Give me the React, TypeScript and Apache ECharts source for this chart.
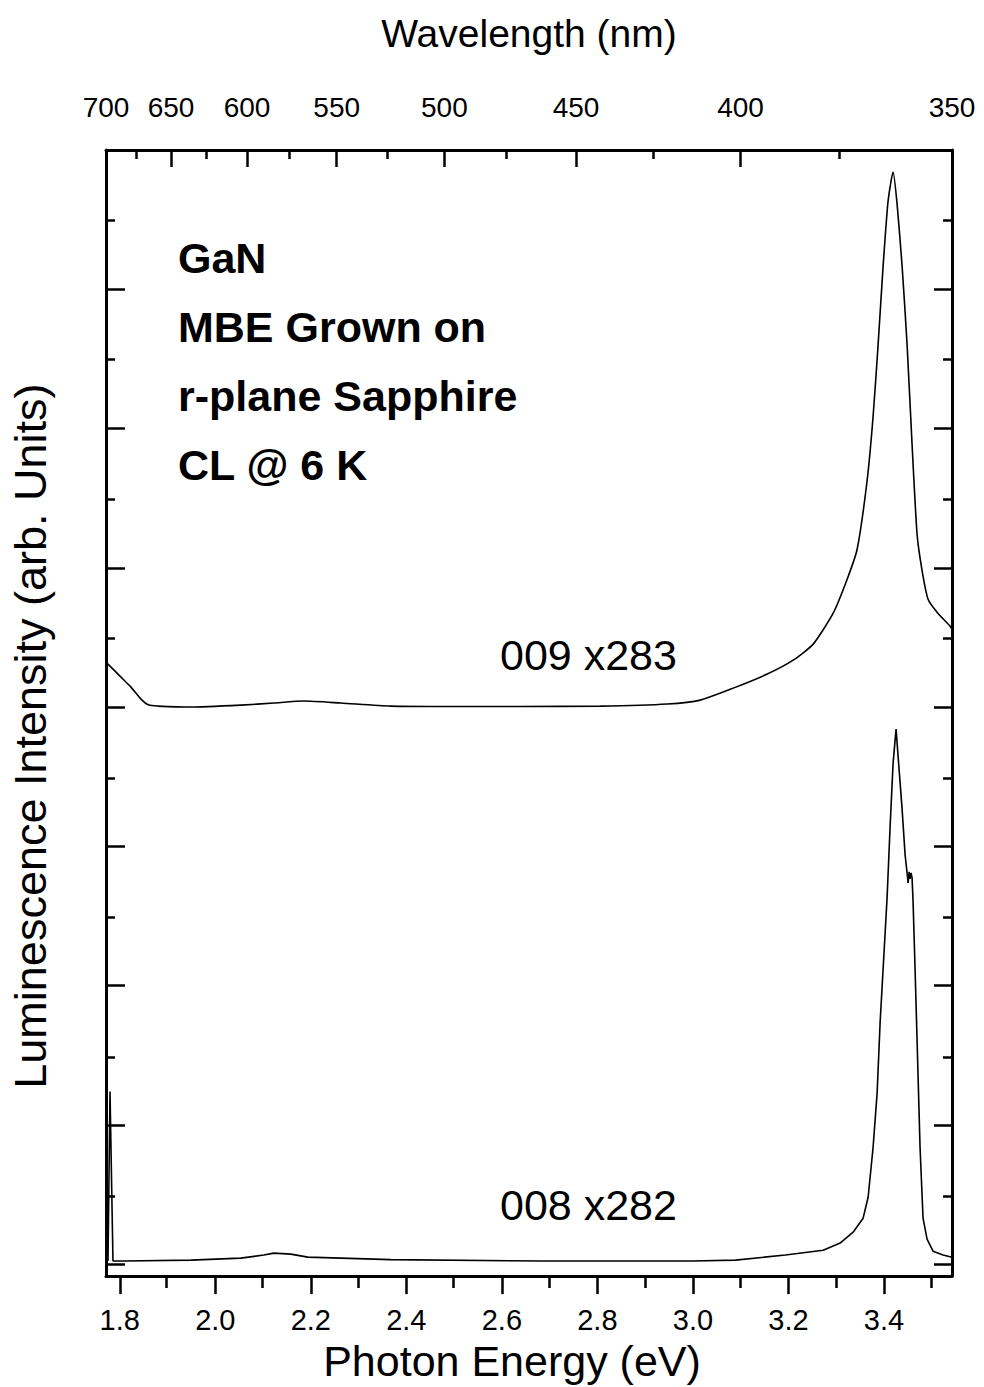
import React, { useEffect, useRef } from "react";
import * as echarts from "echarts";

// Photon energy (eV) / intensity pairs, sample 009 (scaled x283, offset by 4 units)
const energy009 = [
  1.771, 1.8026, 1.8235, 1.8444, 1.8611, 1.8799, 1.949, 2.0535, 2.1225, 2.1852,
  2.2626, 2.3672, 2.4927, 2.6391, 2.8063, 2.9465, 3.0155, 3.0845, 3.1556, 3.2099,
  3.2518, 3.2936, 3.3229, 3.3438, 3.3647, 3.3772, 3.3877, 3.3982, 3.4086, 3.4191,
  3.4274, 3.4379, 3.4484, 3.4588, 3.4693, 3.4797, 3.4923, 3.5111, 3.5383, 3.5424,
];
const intensity009 = [
  4.323, 4.215, 4.143, 4.057, 4.014, 4.007, 4.0, 4.014, 4.029, 4.043,
  4.029, 4.007, 4.004, 4.004, 4.007, 4.022, 4.05, 4.136, 4.237, 4.337,
  4.452, 4.674, 4.918, 5.133, 5.627, 6.086, 6.602, 7.168, 7.634, 7.842,
  7.613, 7.168, 6.602, 5.885, 5.24, 4.982, 4.774, 4.681, 4.581, 4.559,
];

// Sample 008 (scaled x282)
const energy008 = [
  1.7754, 1.7796, 1.7858, 1.8088, 1.949, 2.0535, 2.1016, 2.1225, 2.1581, 2.1936,
  2.2626, 2.3672, 2.6809, 2.9992, 3.0891, 3.1937, 3.2727, 3.3082, 3.3354, 3.3563,
  3.3668, 3.3772, 3.3856, 3.3919, 3.3981, 3.4065, 3.4128, 3.4191, 3.4253, 3.4295,
  3.4379, 3.4442, 3.4484, 3.4505, 3.4526, 3.4546, 3.4567, 3.4588, 3.4609, 3.4651,
  3.4693, 3.4755, 3.4818, 3.4902, 3.5027, 3.5236, 3.5424,
];
const intensity008 = [
  0.022, 1.24, 0.022, 0.022, 0.029, 0.043, 0.065, 0.079, 0.072, 0.05,
  0.043, 0.032, 0.022, 0.022, 0.029, 0.065, 0.1, 0.151, 0.229, 0.33,
  0.48, 0.839, 1.226, 1.735, 2.115, 2.631, 3.14, 3.599, 3.842, 3.649,
  3.269, 2.939, 2.81, 2.738, 2.817, 2.767, 2.81, 2.774, 2.602, 2.115,
  1.606, 0.839, 0.33, 0.179, 0.093, 0.065, 0.05,
];

// Axis ticks
const energyMajor = [1.8, 2.0, 2.2, 2.4, 2.6, 2.8, 3.0, 3.2, 3.4];
const energyMinor = [1.9, 2.1, 2.3, 2.5, 2.7, 2.9, 3.1, 3.3, 3.5];
const wavelengthMajor = [700, 650, 600, 550, 500, 450, 400, 350];
const wavelengthMinor = [675, 625, 575, 525, 475, 425, 375];
const intensityMajor = [0, 1, 2, 3, 4, 5, 6, 7];
const intensityMinor = [0.5, 1.5, 2.5, 3.5, 4.5, 5.5, 6.5, 7.5];

const HC = 1239.84; // eV·nm
const X_MIN = HC / 700;
const X_MAX = HC / 350;
const Y_MIN = -0.086;
const Y_MAX = 8;

const infoLines = ["GaN", "MBE Grown on", "r-plane Sapphire", "CL @ 6 K"];
const curveLabels = ["009 x283", "008 x282"];

const FONT = "'Liberation Sans', Arial, Helvetica, sans-serif";

function pairs(xs: number[], ys: number[]) {
  return xs.map((x, i) => [x, ys[i]]);
}

export default function App() {
  const ref = useRef<HTMLDivElement>(null);

  useEffect(() => {
    document.body.style.margin = "0";
    if (!ref.current) return;
    const chart = echarts.init(ref.current, null, { renderer: "svg" });

    const black = "#000";
    const frame = { show: true, onZero: false, lineStyle: { color: black, width: 3 } };
    const noLine = { show: false, onZero: false };
    const gridBox = { left: 105, right: 32, top: 150, bottom: 109, containLabel: false };

    const tick = (values: number[], length: number, inside: boolean) => ({
      show: true,
      inside,
      length,
      customValues: values,
      lineStyle: { color: black, width: 2.5 },
    });

    const xBase = (gridIndex: number) => ({
      type: "value" as const,
      min: X_MIN,
      max: X_MAX,
      gridIndex,
      splitLine: { show: false },
    });
    const yBase = (gridIndex: number) => ({
      type: "value" as const,
      min: Y_MIN,
      max: Y_MAX,
      gridIndex,
      splitLine: { show: false },
      axisLabel: { show: false },
    });

    chart.setOption({
      animation: false,
      backgroundColor: "#fff",
      // grid 0 carries the data and major ticks, grid 1 (same box) the minor ticks
      grid: [gridBox, gridBox],
      xAxis: [
        {
          ...xBase(0),
          position: "bottom",
          axisLine: frame,
          axisTick: tick(energyMajor, 18, false),
          axisLabel: {
            show: true,
            customValues: energyMajor,
            formatter: (v: number) => v.toFixed(1),
            fontSize: 29,
            fontFamily: FONT,
            color: black,
            margin: 29,
          },
          name: "Photon Energy (eV)",
          nameLocation: "middle",
          nameGap: 59,
          nameTextStyle: { fontSize: 43, fontFamily: FONT, color: black, padding: [0, 34, 0, 0] },
        },
        {
          ...xBase(0),
          position: "top",
          axisLine: frame,
          axisTick: tick(wavelengthMajor.map((w) => HC / w), 17, true),
          axisLabel: {
            show: true,
            customValues: wavelengthMajor.map((w) => HC / w),
            formatter: (v: number) => String(Math.round(HC / v)),
            fontSize: 28,
            fontFamily: FONT,
            color: black,
            margin: 29,
            showMinLabel: true,
            showMaxLabel: true,
          },
          name: "Wavelength (nm)",
          nameLocation: "middle",
          nameGap: 97,
          nameTextStyle: { fontSize: 39, fontFamily: FONT, color: black },
        },
        {
          ...xBase(1),
          position: "bottom",
          axisLine: noLine,
          axisTick: tick(energyMinor, 10, false),
          axisLabel: { show: false },
        },
        {
          ...xBase(1),
          position: "top",
          axisLine: noLine,
          axisTick: tick(wavelengthMinor.map((w) => HC / w), 9, true),
          axisLabel: { show: false },
        },
      ],
      yAxis: [
        {
          ...yBase(0),
          position: "left",
          axisLine: frame,
          axisTick: tick(intensityMajor, 19, true),
          name: "Luminescence Intensity (arb. Units)",
          nameLocation: "middle",
          nameRotate: 90,
          nameGap: 53,
          nameTextStyle: { fontSize: 45, fontFamily: FONT, color: black, padding: [0, 46, 0, 0] },
        },
        {
          ...yBase(0),
          position: "right",
          axisLine: frame,
          axisTick: tick(intensityMajor, 18, true),
        },
        {
          ...yBase(1),
          position: "left",
          axisLine: noLine,
          axisTick: tick(intensityMinor, 10, true),
        },
        {
          ...yBase(1),
          position: "right",
          axisLine: noLine,
          axisTick: tick(intensityMinor, 9, true),
        },
      ],
      series: [
        {
          name: "009",
          type: "line",
          xAxisIndex: 0,
          yAxisIndex: 0,
          data: pairs(energy009, intensity009),
          showSymbol: false,
          symbol: "none",
          smooth: 0.2,
          lineStyle: { color: black, width: 1.6 },
          clip: true,
        },
        {
          name: "008",
          type: "line",
          xAxisIndex: 0,
          yAxisIndex: 0,
          data: pairs(energy008, intensity008),
          showSymbol: false,
          symbol: "none",
          lineStyle: { color: black, width: 1.6 },
          clip: true,
        },
      ],
      graphic: [
        ...infoLines.map((t, i) => ({
          type: "text",
          x: 178,
          y: 258 + i * 69,
          style: {
            text: t,
            fontSize: 43,
            fontWeight: "bold",
            fontFamily: FONT,
            fill: black,
            textAlign: "left",
            textVerticalAlign: "middle",
          },
        })),
        ...curveLabels.map((t, i) => ({
          type: "text",
          x: 500,
          y: [655, 1205][i],
          style: {
            text: t,
            fontSize: 43,
            fontFamily: FONT,
            fill: black,
            textAlign: "left",
            textVerticalAlign: "middle",
          },
        })),
      ],
    });

    return () => chart.dispose();
  }, []);

  return <div ref={ref} style={{ width: 984, height: 1387 }} />;
}
